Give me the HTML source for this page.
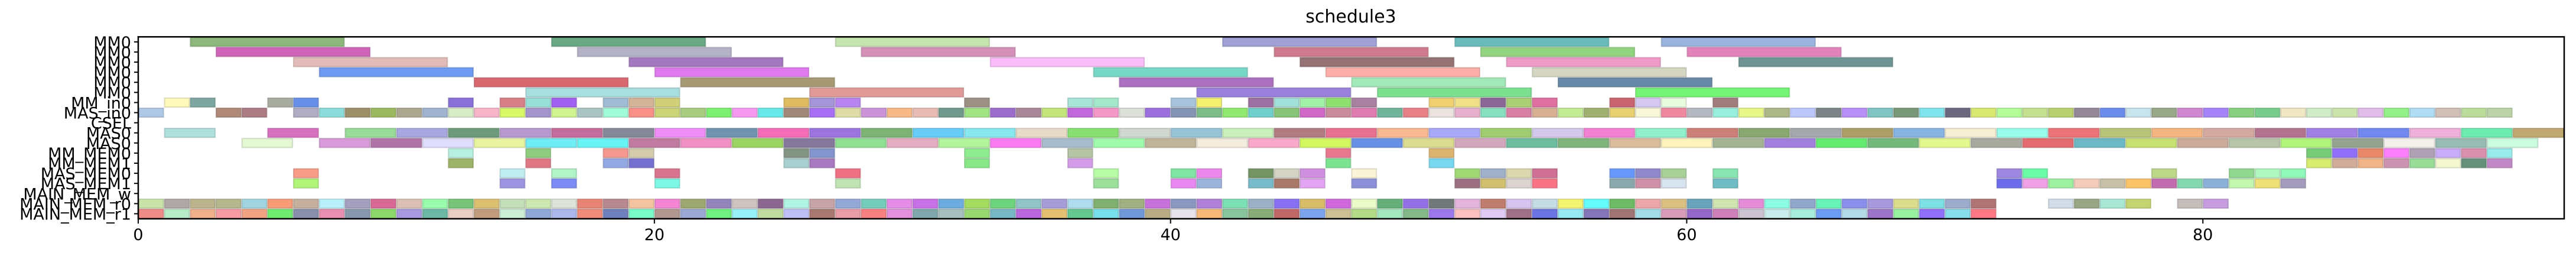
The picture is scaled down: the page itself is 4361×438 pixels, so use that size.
<!DOCTYPE html>
<html><head><meta charset="utf-8"><style>
html,body{margin:0;padding:0;background:#fff;}
svg{display:block;}
text{font-family:"DejaVu Sans","Liberation Sans",sans-serif;}
</style></head><body>
<svg id="chart" width="4361" height="438" viewBox="0 0 4361 438" xmlns="http://www.w3.org/2000/svg">
<text x="2287" y="38" font-size="30" text-anchor="middle">schedule3</text>
<g id="bars"></g>
<g id="axes"></g>
</svg>
<script>
const rowLabels = ["MM0","MM0","MM0","MM0","MM0","MM0","MM_in0","MAS_in0","CSEL","MAS0","MAS0","MM_MEM0","MM_MEM1","MAS_MEM0","MAS_MEM1","MAIN_MEM_w","MAIN_MEM_r0","MAIN_MEM_r1"];
const rowDur = [6,6,6,6,6,6,1,1,1,2,2,1,1,1,1,1,1,1];
const xTicks = [0,20,40,60,80];
const xMax = 94;
const rowStarts = [
[2,16,27,42,51,59],
[3,17,28,44,52,60],
[6,19,33,45,53,62],
[7,20,37,46,54],
[13,21,38,47,55],
[15,26,41,48,58],
[1,2,5,6,12,14,15,16,18,19,20,25,26,27,32,36,37,40,41,43,44,45,46,47,50,51,52,53,54,57,58,59,61],
[0,3,4,6,7,8,9,10,11,12,13,14,15,16,17,18,19,20,21,22,23,24,25,26,27,28,29,30,31,32,33,34,35,36,37,38,39,40,41,42,43,44,45,46,47,48,49,50,51,52,53,54,55,56,57,58,59,60,61,62,63,64,65,66,67,68,69,70,71,72,73,74,75,76,77,78,79,80,81,82,83,84,85,86,87,88,89,90,91],
[],
[1,5,8,10,12,14,16,18,20,22,24,26,28,30,32,34,36,38,40,42,44,46,48,50,52,54,56,58,60,62,64,66,68,70,72,74,76,78,80,82,84,86,88,90,92],
[4,7,9,11,13,15,17,19,21,23,25,27,29,31,33,35,37,39,41,43,45,47,49,51,53,55,57,59,61,63,65,67,69,71,73,75,77,79,81,83,85,87,89,91],
[12,15,18,19,25,26,32,36,46,50,84,85,86,87,88,89,90,91],
[12,15,18,19,25,26,32,36,46,50,84,85,86,87,88,89,90,91],
[6,14,16,20,27,37,40,41,43,44,45,47,51,52,53,54,57,58,59,61,72,73,78,81,82,83],
[6,14,16,20,27,37,40,41,43,44,45,47,51,52,53,54,57,58,59,61,72,73,74,75,76,77,78,79,80,81,82,83],
[],
[0,1,2,3,4,5,6,7,8,9,10,11,12,13,14,15,16,17,18,19,20,21,22,23,24,25,26,27,28,29,30,31,32,33,34,35,36,37,38,39,40,41,42,43,44,45,46,47,48,49,50,51,52,53,54,55,56,57,58,59,60,61,62,63,64,65,66,67,68,69,70,71,74,75,76,77,79,80],
[0,1,2,3,4,5,6,7,8,9,10,11,12,13,14,15,16,17,18,19,20,21,22,23,24,25,26,27,28,29,30,31,32,33,34,35,36,37,38,39,40,41,42,43,44,45,46,47,48,49,50,51,52,53,54,55,56,57,58,59,60,61,62,63,64,65,66,67,68,69,70,71]
];
const rowColors = [
["#8cb87c","#6aa884","#c5e4ae","#a0a0d6","#6abcbc","#9ab4e0"],
["#d064b8","#b4b2c8","#d490b8","#d07a8e","#92d47e","#e482bc"],
["#e2bcb8","#a478c0","#fbbcfb","#957374","#f09ac8","#6e9494"],
["#6e9af2","#e078ee","#78d8c8","#fcaea8","#d4d6c2"],
["#d86870","#a69a74","#ac70c0","#a2e8b8","#6888a8"],
["#a8dede","#e09a98","#9880dc","#7ce090","#74f474"],
["#fffabc","#7ea6a0","#a8aca0","#6890e8","#8870d8","#d88088","#98e0d8","#a060f0","#a0bcd4","#d4b498","#d0d078","#e0bc60","#a494d8","#b884f0","#9c9084","#a8e4d8","#a4e8cc","#a8c4dc","#f4f070","#9c70a0","#a0e0d8","#a0f0a8","#90e070","#a880a0","#f0d070","#f0e088","#8a6896","#acd074","#e070a0","#c86470","#d4c8f0","#e8fce0","#a07c7c"],
["#b0c8e8","#b08878","#ac7c84","#b0acc4","#8cdcdc","#9c9068","#9cb860","#aca890","#a0b4d0","#d8ecc8","#f8b4c8","#d8f868","#a494cc","#d0f490",
"#aac4c4","#a0fcd8","#f89088","#ccd478","#a8cc80","#7cf070","#f498f0","#68e8e8","#a08878","#a86ef4","#e0dca8","#cc94d8","#f8b888","#e8bcb4","#70988c","#a0e484","#9c6ccc",
"#a88898","#c4e47c","#c068dc","#f498c8","#dce0d8","#9c70dc","#8494b4","#7cbc88","#90e870","#70d0cc","#88c478","#d068c8","#c88c9c","#e07cb0","#70b49c","#e88088","#ece4e0",
"#e8b0cc","#88e0c0","#d880a4","#d8b094","#c4ec94","#a0b070","#e8d070","#f8f8d8","#f088a0","#b4b8c0","#98f0dc","#e8f888","#acb888","#bcc8fc","#7c8488","#b890f8",
"#80c4c4","#789878","#80e4ec","#6c6880","#d8e870","#b4fc98","#c4e090","#b8d070","#948898","#6c8cec","#c8e4ec","#98a888","#d088d0","#a484f8","#88d080","#78cc8c","#f0e8c4",
"#d0ecc8","#cce4ac","#e0bce8","#94f088","#b0dcf4","#d0c0b8","#bcdc9c","#bcd4a8"],
[],
["#b0e0dc","#d870c0","#98dc98","#a8a8e0","#6c9c7c","#b898d0","#c46c9c","#848898","#f08cf8","#7094b0","#f46cb8","#9c74e0","#7cb474","#68ccf8","#88e8f0","#e8dcc8","#88e070","#d0d8d0","#98c4d8","#c8f0b8","#b07c80","#e87090","#fab890","#a8a8f8","#a0cc70","#d4c8ec","#f480d4","#90f0cc","#cc8078","#88a870","#a4a8ac","#ae9f68","#88b4e4","#f8eed4","#98fcec","#ec7478","#b8c478","#f4b480","#d4aaa0","#b47490","#a080e4","#7088f0","#f0b0dc","#6cecb0","#c0a870"],
["#e4f8d4","#d89ad8","#b074a8","#e0dcfc","#e8f4a0","#70ecf4","#68f4f4","#c07ca0","#f090c4","#9cd464","#84789c","#90e094","#e4acc0","#b4f49c","#f87cf0","#a8bccc","#a0fcac","#c0b498","#f4ecdc","#f8a8c8","#d4f860","#6890e4","#dcdc90","#d4a8bc","#6cbca0","#80b47c","#d8bc9c","#fcf4bc","#a4b494","#a080dc","#64ec70","#74b87c","#e4f890","#a8aaa0","#e46c70","#6cb8c4","#c8e070","#ccaa9c","#b8c4a8","#b0f47c","#94a490","#f4f0ec","#98bcb4","#ccfce0"],
["#b8f0e0","#90cc80","#f49890","#d4ccac","#849484","#8494cc","#90ec90","#b4c4a4","#e87890","#dcb470","#78cc78","#9070f8","#e88868","#fc80fc","#b0a0b4","#c8acf8","#d890ac","#98ecec"],
["#9cb468","#e07884","#94a8e4","#7470d0","#a8d0d0","#a878c0","#88e888","#d49ce8","#7ce490","#78d8f0","#d8ec70","#d0ac98","#f0b488","#cc94b0","#98dc98","#f4f8d0","#64907c","#c088c4"],
["#f89c88","#c0eef0","#b0f4c8","#d87490","#f07084","#b8fca8","#80e4a4","#ec88ec","#749464","#d4d4c4","#d090e0","#fcf4d8","#a0d874","#a0b0c8","#dcd8b0","#d07094","#6898fc","#9088c8","#a8d098","#88e4b0","#9c88e0","#6cfca8","#bcd888","#90d890","#b0f8c0","#90f8b8"],
["#b0f478","#9c94e0","#7c8cf4","#7cf8e4","#c0e4b4","#9ce09c","#e888f0","#9cb4dc","#78bccc","#a87868","#e4a4f4","#8c90d8","#9c7080","#d0c070","#dcd4d0","#f87484","#88a8ac","#d090a8","#d8e4f0","#70bcc4","#6c6cec","#f0a0e4","#9cf0a0","#f4ccbc","#c8c0a8","#fcc468","#c46cb0","#84d8b0","#8cb0d8","#c4f8b0","#f0e078","#a49cbc"],
[],
["#c8e4a8","#b0a8a4","#bcb48c","#b4b88c","#a0d4e0","#f89c78","#c4b09c","#b8f0fc","#a4a0c0","#d86894","#dcc0b4","#98fcac","#78c478","#dcc070","#c4e0b8","#cce8b0","#dce4d8",
"#e88474","#b88890","#f4c4a0","#f484d4","#9ca870","#9484bc","#d0c4c0","#8c6890","#b0f4e4","#c8a4a8","#94a8d8","#74ccbc","#e48ce8","#c870e8","#6cace0","#a4dc60","#6cd47c",
"#90c4c8","#a89cd8","#b0dcf0","#80b070","#a0b080","#c870dc","#8898c0","#b080d8","#7ce0b4","#9cb0c8","#8870f4","#d8bc68","#d068dc","#ecfcc8","#64b078","#9470e8","#707878",
"#e4b4dc","#c07c6c","#d8c4f0","#c4dce4","#f4f470","#64fcfc","#6cbc64","#eca8a8","#dcc080","#68a4bc","#d0e4b0","#e48cd8","#8cfce4","#90a8cc","#68f4b8","#8890ec",
"#a898e0","#dcdc8c","#7ce0e4","#9caccc","#b07474",
"#d0dce8","#98a884","#a8e8d4","#c4d470","#c4bcb8","#c89ce0"],
["#f08c88","#b8ecc8","#f0b08c","#f89ca4","#f0a484","#70ec70","#8890ac","#e890b0","#8898ac","#8cd86c","#a898e0","#6cb8a4","#e8d0c4","#c09c7c","#cceed4","#90a8d8","#acb8ec",
"#f08c7c","#7080bc","#78fcc8","#b09890","#9ca8d4","#70f080","#98f0f8","#c0dca0","#c0c0f8","#a87870","#e89ca8","#f88080","#e490dc","#80a8ac","#a8c0c0","#98d870","#78b8c4",
"#b868dc","#e4c070","#64c890","#78e0ec","#7098d8","#b8ac84","#e8e4ec","#f8b878","#88c49c","#88ac78","#c06868","#7ca4ec","#ccc094","#b4dc88","#a4e8c0","#84b888","#9c78ec",
"#fcc0c0","#e0ccf4","#a07088","#6c74e4","#98e8f4","#8474b8","#a07474","#a4dce8","#d89cb8","#9468c8","#d080b8","#ccc4d0","#c8ecec","#a8ecdc","#6c9cf4","#b4dce8",
"#9c74c8","#98f0a0","#9070f8","#88dcec","#fc7884"]
];

const NS = "http://www.w3.org/2000/svg";
const X0 = 234, X1 = 4341, Y0 = 62.3, Y1 = 370;
const rowH = (Y1 - Y0) / rowLabels.length;
function xs(v){ return X0 + (X1 - X0) * v / xMax; }
function yTop(i){ return Y0 + i * rowH; }
function darker(hex){
  const n = parseInt(hex.slice(1),16);
  const r=Math.round(((n>>16)&255)*0.8), g=Math.round(((n>>8)&255)*0.8), b=Math.round((n&255)*0.8);
  return "rgb("+r+","+g+","+b+")";
}
const barsG = document.getElementById("bars");
for (let i = 0; i < rowStarts.length; i++) {
  for (let j = 0; j < rowStarts[i].length; j++) {
    const s = rowStarts[i][j];
    const c = rowColors[i][j] || "#cccccc";
    const r = document.createElementNS(NS, "rect");
    r.setAttribute("x", xs(s) + 1);
    r.setAttribute("y", yTop(i) + 1);
    r.setAttribute("width", xs(s + rowDur[i]) - xs(s) - 2);
    r.setAttribute("height", rowH - 2);
    r.setAttribute("fill", c);
    r.setAttribute("stroke", darker(c));
    r.setAttribute("stroke-opacity", "0.6");
    r.setAttribute("stroke-width", "2");
    
    
    barsG.appendChild(r);
  }
}
const axG = document.getElementById("axes");
const frame = document.createElementNS(NS, "rect");
frame.setAttribute("x", X0); frame.setAttribute("y", Y0);
frame.setAttribute("width", X1 - X0); frame.setAttribute("height", Y1 - Y0);
frame.setAttribute("fill", "none"); frame.setAttribute("stroke", "#000"); frame.setAttribute("stroke-width", "2.5");


axG.appendChild(frame);
for (let i = 0; i < rowLabels.length; i++) {
  const yc = yTop(i) + rowH / 2;
  const t = document.createElementNS(NS, "line");
  t.setAttribute("x1", X0 - 7); t.setAttribute("x2", X0); t.setAttribute("y1", yc); t.setAttribute("y2", yc);
  t.setAttribute("stroke", "#000"); t.setAttribute("stroke-width", "2");
  
  
  axG.appendChild(t);
  const tx = document.createElementNS(NS, "text");
  tx.setAttribute("x", X0 - 12); tx.setAttribute("y", yc + 10);
  tx.setAttribute("font-size", "27"); tx.setAttribute("text-anchor", "end");
  tx.textContent = rowLabels[i];
  
  
  axG.appendChild(tx);
}
for (const v of xTicks) {
  const t = document.createElementNS(NS, "line");
  t.setAttribute("x1", xs(v)); t.setAttribute("x2", xs(v)); t.setAttribute("y1", Y1); t.setAttribute("y2", Y1 + 8);
  t.setAttribute("stroke", "#000"); t.setAttribute("stroke-width", "2");
  
  
  axG.appendChild(t);
  const tx = document.createElementNS(NS, "text");
  tx.setAttribute("x", xs(v)); tx.setAttribute("y", Y1 + 36);
  tx.setAttribute("font-size", "27"); tx.setAttribute("text-anchor", "middle");
  tx.textContent = String(v);
  
  
  axG.appendChild(tx);
}
</script>
</body></html>
